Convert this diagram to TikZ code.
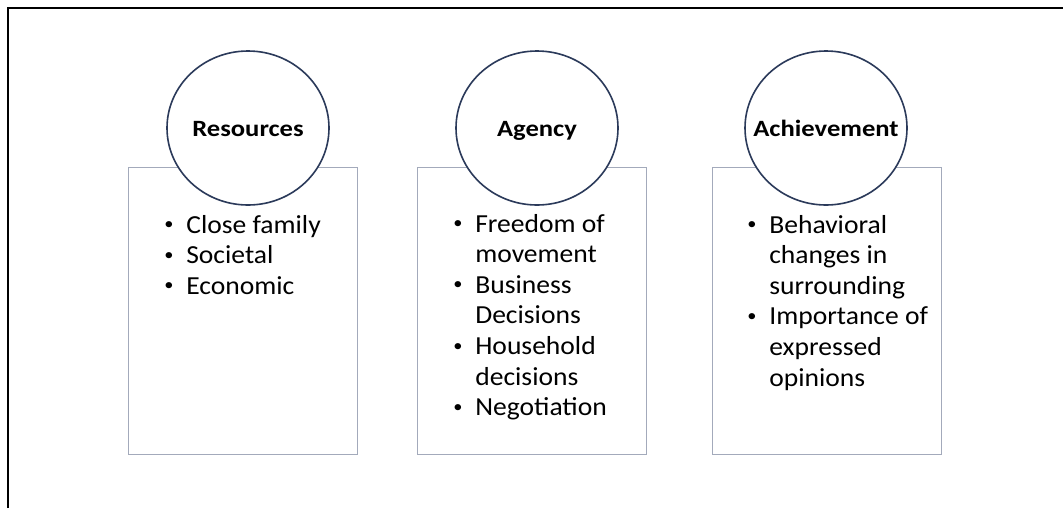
\documentclass[tikz,border=0pt]{standalone}
\usepackage{fontspec}
\setmainfont{Carlito}
\usetikzlibrary{shapes.geometric}
\definecolor{ringline}{HTML}{2B3A5A}
\definecolor{boxline}{HTML}{A3AABB}
% small raised bullet for the lists
\newcommand{\bul}{\raisebox{2.5pt}{\fontsize{13}{13}\selectfont\textbullet}}
% list body: bullet column plus text column, slightly widened
\newcommand{\itemlist}[1]{\scalebox{1.06}[1]{\begin{tabular}[t]{@{}p{15.6pt}@{}l@{}}#1\end{tabular}}}
\newcommand{\heading}[1]{\scalebox{1.14}[1]{#1}}
\begin{document}
\begin{tikzpicture}[x=0.75pt,y=-0.75pt,
  panel/.style={rectangle, draw=boxline, line width=1pt, anchor=north west,
    minimum width=171.75pt, minimum height=215.25pt, inner sep=0pt},
  ring/.style={ellipse, draw=ringline, fill=white, line width=1.2pt,
    minimum width=121.5pt, minimum height=115.5pt, inner sep=0pt},
  title/.style={anchor=base, inner sep=0pt, yshift=-6.4pt,
    font=\fontsize{17.5}{20}\selectfont\bfseries},
  items/.style={anchor=base west, inner sep=0pt,
    font=\fontsize{19.5}{22.95}\selectfont}]
\useasboundingbox (0,0) rectangle (1063,508);
% frame
\draw[line width=2.2pt] (8,508) -- (8,8) -- (1063,8);
% panels
\node[panel] (resbox) at (128,167) {};
\node[panel] (agebox) at (417,167) {};
\node[panel] (achbox) at (712,167) {};
% heading circles and their titles (titles share one baseline)
\node[ring] (res) at (248,128) {};
\node[ring] (age) at (537,128) {};
\node[ring] (ach) at (826,128) {};
\node[title] (restitle) at (res.center) {\heading{Resources}};
\node[title] (agetitle) at (age.center) {\heading{Agency}};
\node[title] (achtitle) at (ach.center) {\heading{Achievement}};
% bullet lists
\node[items] (reslist) at (164,233) {\itemlist{
\bul & Close family\\ \bul & Societal\\ \bul & Economic}};
\node[items] (agelist) at (453,232) {\itemlist{
\bul & Freedom of\\ & movement\\ \bul & Business\\ & Decisions\\
\bul & Household\\ & decisions\\ \bul & Negotiation}};
\node[items] (achlist) at (747,233) {\itemlist{
\bul & Behavioral\\ & changes in\\ & surrounding\\
\bul & Importance of\\ & expressed\\ & opinions}};
\end{tikzpicture}
\end{document}
